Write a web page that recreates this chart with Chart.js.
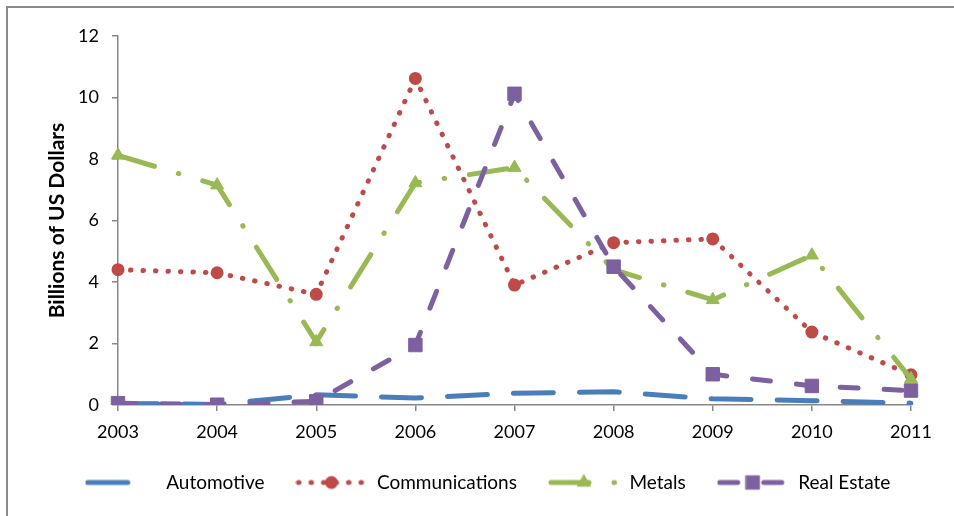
<!DOCTYPE html>
<html>
<head>
<meta charset="utf-8">
<script src="https://cdn.jsdelivr.net/npm/chart.js@4.4.1/dist/chart.umd.min.js"></script>
<style>
  html, body { margin: 0; padding: 0; background: #ffffff; }
  #wrap { position: relative; width: 954px; height: 516px; }
</style>
</head>
<body>
<div id="wrap"><canvas id="chart" width="954" height="516"></canvas></div>
<script>
// Investment by sector, billions of US dollars
const years = ['2003', '2004', '2005', '2006', '2007', '2008', '2009', '2010', '2011'];
const automotive     = [0.05, 0.02, 0.33, 0.23, 0.38, 0.43, 0.20, 0.14, 0.06];
const communications = [4.40, 4.30, 3.60, 10.62, 3.90, 5.28, 5.40, 2.37, 0.98];
const metals         = [8.12, 7.15, 2.05, 7.22, 7.72, 4.40, 3.42, 4.87, 0.85];
const realEstate     = [0.06, 0.01, 0.12, 1.95, 10.12, 4.50, 1.00, 0.62, 0.47];
const seriesNames = ['Automotive', 'Communications', 'Metals', 'Real Estate'];

const FONT = 'Lato, "Open Sans", sans-serif';
const AXIS_GREY = '#878787';

const datasets = [
  {
    label: seriesNames[0], data: automotive,
    borderColor: '#4A7EBB', backgroundColor: '#4A7EBB',
    borderWidth: 5, borderDash: [40, 26], borderCapStyle: 'round',
    pointRadius: 0, pointStyle: false, order: 3
  },
  {
    label: seriesNames[1], data: communications,
    borderColor: '#BE4B48', backgroundColor: '#BE4B48',
    borderWidth: 5, borderDash: [0.5, 12], borderCapStyle: 'round',
    pointStyle: 'circle', pointRadius: 5.5, pointBorderWidth: 2,
    pointBackgroundColor: '#BE4B48', pointBorderColor: '#BE4B48', order: 2
  },
  {
    label: seriesNames[2], data: metals,
    borderColor: '#98B954', backgroundColor: '#98B954',
    borderWidth: 5, borderDash: [38, 25, 0.5, 25], borderCapStyle: 'round',
    pointStyle: 'triangle', pointRadius: 7.5, pointBorderWidth: 1,
    pointBackgroundColor: '#98B954', pointBorderColor: '#98B954', order: 1
  },
  {
    label: seriesNames[3], data: realEstate,
    borderColor: '#7D60A0', backgroundColor: '#7D60A0',
    borderWidth: 5, borderDash: [18, 26], borderCapStyle: 'round',
    pointStyle: 'rect', pointRadius: 9.5, pointBorderWidth: 1,
    pointBackgroundColor: '#7D60A0', pointBorderColor: '#7D60A0', order: 0
  }
];

// Legend swatch: a short run of the series line with its marker in the middle
const SWATCH_W = 72, SWATCH_H = 20;
function lineSwatch(ds) {
  const c = document.createElement('canvas');
  c.width = SWATCH_W; c.height = SWATCH_H;
  const g = c.getContext('2d');
  g.strokeStyle = ds.borderColor;
  g.fillStyle = ds.borderColor;
  g.lineWidth = ds.borderWidth;
  g.lineCap = 'round';
  g.setLineDash(ds.borderDash || []);
  g.beginPath();
  g.moveTo(3, SWATCH_H / 2);
  g.lineTo(SWATCH_W - 3, SWATCH_H / 2);
  g.stroke();
  g.setLineDash([]);
  if (ds.pointStyle && ds.pointRadius > 0) {
    g.lineWidth = ds.pointBorderWidth || 1;
    Chart.helpers.drawPoint(g, {
      pointStyle: ds.pointStyle, radius: ds.pointRadius,
      borderWidth: ds.pointBorderWidth || 1, rotation: 0
    }, SWATCH_W / 2, SWATCH_H / 2);
  }
  return c;
}

// Left and top frame lines of the chart box
const frame = {
  id: 'frame',
  beforeDraw(chart) {
    const ctx = chart.ctx;
    ctx.save();
    ctx.fillStyle = '#ffffff';
    ctx.fillRect(0, 0, chart.width, chart.height);
    ctx.strokeStyle = '#8a8a8a';
    ctx.lineWidth = 2;
    ctx.beginPath();
    ctx.moveTo(7, chart.height);
    ctx.lineTo(7, 7);
    ctx.lineTo(chart.width, 7);
    ctx.stroke();
    ctx.restore();
  }
};

const PLOT_BOTTOM = 405;

new Chart(document.getElementById('chart'), {
  type: 'line',
  data: { labels: years, datasets },
  plugins: [frame],
  options: {
    responsive: false,
    animation: false,
    devicePixelRatio: 1,
    layout: { padding: { left: 21, right: 0, top: 36, bottom: 14 } },
    elements: { line: { tension: 0 } },
    plugins: {
      tooltip: { enabled: false },
      legend: {
        position: 'bottom',
        labels: {
          usePointStyle: true,
          pointStyleWidth: SWATCH_W,
          padding: 31,
          color: '#000000',
          font: { family: FONT, size: 19 },
          generateLabels(chart) {
            return chart.data.datasets.map((ds, i) => ({
              text: ds.label,
              pointStyle: lineSwatch(ds),
              fillStyle: ds.borderColor,
              strokeStyle: ds.borderColor,
              lineWidth: 0,
              fontColor: '#000000',
              hidden: !chart.isDatasetVisible(i),
              datasetIndex: i
            }));
          }
        }
      }
    },
    scales: {
      x: {
        type: 'category',
        offset: false,
        grid: { display: true, drawOnChartArea: false, drawTicks: true, tickLength: 6, color: AXIS_GREY, lineWidth: 1.5 },
        border: { display: true, color: AXIS_GREY, width: 1.5 },
        ticks: { color: '#000000', font: { family: FONT, size: 18 }, padding: 10, maxRotation: 0, autoSkip: false },
        afterFit(s) {
          const lg = s.chart.legend ? s.chart.legend.height : 60;
          s.height = s.chart.height - PLOT_BOTTOM - 14 - lg;
        }
      },
      y: {
        type: 'linear',
        position: 'left',
        min: 0, max: 12,
        grid: { display: true, drawOnChartArea: false, drawTicks: true, tickLength: 6, color: AXIS_GREY, lineWidth: 1.5 },
        border: { display: true, color: AXIS_GREY, width: 1.5 },
        ticks: { stepSize: 2, color: '#000000', font: { family: FONT, size: 18 }, padding: 13 },
        title: {
          display: true,
          text: 'Billions of US Dollars',
          color: '#000000',
          font: { family: FONT, size: 21, weight: 'bold' },
          padding: { top: 24, bottom: 0 }
        },
        afterFit(s) { s.width = 97; }
      },
      yRight: {
        type: 'linear',
        position: 'right',
        display: true,
        grid: { display: false },
        border: { display: false },
        ticks: { display: false },
        afterFit(s) { s.width = 43; }
      }
    }
  }
});
</script>
</body>
</html>
